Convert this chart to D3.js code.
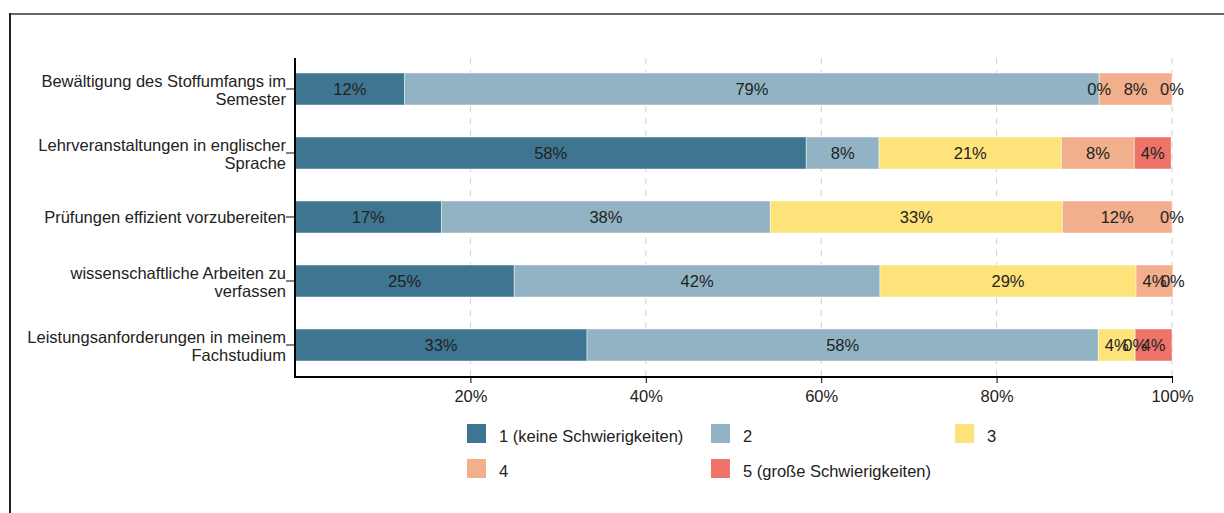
<!DOCTYPE html>
<html><head><meta charset="utf-8">
<script src="https://cdn.jsdelivr.net/npm/d3@7"></script>
<style>
html,body{margin:0;padding:0;background:#fff;}
svg{display:block;font-family:"Liberation Sans",Arial,sans-serif;}
</style></head>
<body><svg id="c" width="1224" height="513"></svg>
<script>
const categories = [
  "Bewältigung des Stoffumfangs im Semester",
  "Lehrveranstaltungen in englischer Sprache",
  "Prüfungen effizient vorzubereiten",
  "wissenschaftliche Arbeiten zu verfassen",
  "Leistungsanforderungen in meinem Fachstudium"
];
const categoryLines = [
  ["Bewältigung des Stoffumfangs im", "Semester"],
  ["Lehrveranstaltungen in englischer", "Sprache"],
  ["Prüfungen effizient vorzubereiten"],
  ["wissenschaftliche Arbeiten zu", "verfassen"],
  ["Leistungsanforderungen in meinem", "Fachstudium"]
];
const seriesNames = ["1 (keine Schwierigkeiten)", "2", "3", "4", "5 (große Schwierigkeiten)"];
const s1 = [12.5, 58.3, 16.7, 25.0, 33.3];
const s2 = [79.2, 8.3, 37.5, 41.7, 58.3];
const s3 = [0.0, 20.8, 33.3, 29.2, 4.2];
const s4 = [8.3, 8.3, 12.5, 4.2, 0.0];
const s5 = [0.0, 4.2, 0.0, 0.0, 4.2];
const xTicks = [20, 40, 60, 80, 100];
const colors = ["#3E7590", "#91B3C3", "#FEE37B", "#F2AF8B", "#EE746A"];

const FS = 16.5;
const series = [s1, s2, s3, s4, s5];
const rows = categories.map((c, i) => {
  const o = {cat: c};
  seriesNames.forEach((k, j) => o[k] = series[j][i]);
  return o;
});
const stacked = d3.stack().keys(seriesNames)(rows);

// round half to even (as in source labels)
function rEven(v){
  const f = Math.floor(v), d = v - f;
  if (Math.abs(d - 0.5) < 1e-9) return f % 2 === 0 ? f : f + 1;
  return Math.round(v);
}

const svg = d3.select("#c");
// frame
svg.append("line").attr("x1", 9).attr("x2", 1224).attr("y1", 14).attr("y2", 14)
  .attr("stroke", "#666").attr("stroke-width", 2);
svg.append("line").attr("x1", 10).attr("x2", 10).attr("y1", 13).attr("y2", 513)
  .attr("stroke", "#222").attr("stroke-width", 2);

const x = d3.scaleLinear().domain([0, 100]).range([295, 1172]);
const y = d3.scaleBand().domain(categories).range([57, 377]).paddingInner(0.5).paddingOuter(0.25);

// grid
svg.append("g").selectAll("line").data(xTicks).join("line")
  .attr("x1", d => x(d)).attr("x2", d => x(d))
  .attr("y1", 58).attr("y2", 377)
  .attr("stroke", "#d0d0d0").attr("stroke-dasharray", "6,6").attr("stroke-width", 1);

// bars
const g = svg.append("g");
stacked.forEach((layer, j) => {
  g.append("g").attr("fill", colors[j]).selectAll("rect").data(layer).join("rect")
    .attr("x", d => x(d[0])).attr("width", d => x(d[1]) - x(d[0]))
    .attr("y", d => y(d.data.cat)).attr("height", y.bandwidth())
    .attr("stroke", "rgba(255,255,255,0.45)").attr("stroke-width", 1);
});
// labels
stacked.forEach((layer, j) => {
  g.append("g").selectAll("text").data(layer).join("text")
    .attr("x", d => (x(d[0]) + x(d[1])) / 2)
    .attr("y", d => y(d.data.cat) + y.bandwidth() / 2)
    .attr("dy", "0.35em").attr("text-anchor", "middle")
    .attr("font-size", FS).attr("fill", "#222")
    .text(d => rEven(d[1] - d[0]) + "%");
});

// x axis
const xa = svg.append("g").attr("transform", "translate(0,377)")
  .call(d3.axisBottom(x).tickValues(xTicks).tickFormat(d => d + "%").tickSize(6).tickPadding(7));
xa.select(".domain").remove();
xa.selectAll(".tick line").attr("stroke", "#000").attr("stroke-width", 1);
xa.selectAll("text").attr("font-size", FS).attr("fill", "#222").attr("font-family", "Liberation Sans, Arial, sans-serif");
svg.append("line").attr("x1", 294).attr("x2", 1173).attr("y1", 377).attr("y2", 377)
  .attr("stroke", "#000").attr("stroke-width", 2);

// y axis
svg.append("line").attr("x1", 295).attr("x2", 295).attr("y1", 58).attr("y2", 378)
  .attr("stroke", "#000").attr("stroke-width", 2);
const ya = svg.append("g");
categories.forEach((c, i) => {
  const cy = y(c) + y.bandwidth() / 2;
  ya.append("line").attr("x1", 286).attr("x2", 295).attr("y1", cy).attr("y2", cy)
    .attr("stroke", "#000").attr("stroke-width", 1);
  const lines = categoryLines[i];
  const t = ya.append("text").attr("text-anchor", "end").attr("font-size", FS).attr("fill", "#222");
  lines.forEach((ln, k) => {
    t.append("tspan").attr("x", 286)
      .attr("y", lines.length === 1 ? cy + 6 : cy - 2 + k * 18)
      .text(ln);
  });
});

// legend
const legPos = [[467, 424], [711, 424], [955, 424], [467, 459], [711, 459]];
const leg = svg.append("g");
seriesNames.forEach((n, j) => {
  const [lx, ly] = legPos[j];
  leg.append("rect").attr("x", lx).attr("y", ly).attr("width", 19).attr("height", 19).attr("fill", colors[j]);
  leg.append("text").attr("x", lx + 32).attr("y", ly + 18).attr("font-size", FS).attr("fill", "#222").text(n);
});
</script></body></html>
